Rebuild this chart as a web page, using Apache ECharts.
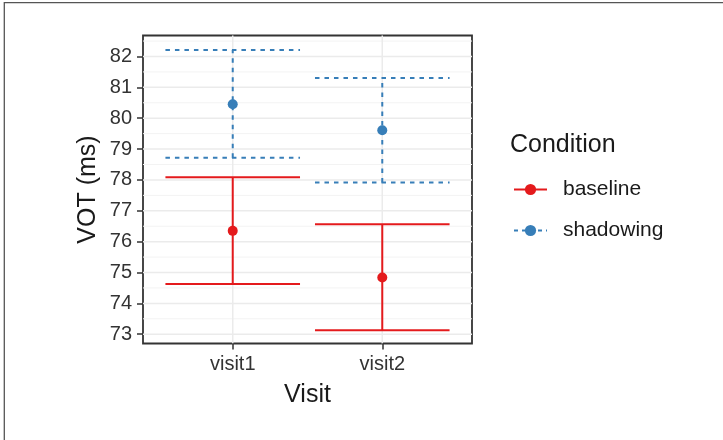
<!DOCTYPE html>
<html>
<head>
<meta charset="utf-8">
<script src="https://cdn.jsdelivr.net/npm/echarts@6/dist/echarts.min.js"></script>
<style>
  html, body { margin: 0; padding: 0; background: #fff; }
  #chart { width: 723px; height: 440px; }
</style>
</head>
<body>
<div id="chart"></div>
<script>
const visits = ['visit1', 'visit2']
const yTicks = [73, 74, 75, 76, 77, 78, 79, 80, 81, 82]
const yMinor = [73.5, 74.5, 75.5, 76.5, 77.5, 78.5, 79.5, 80.5, 81.5, 82.5]

const baselineMean = [76.35, 74.84]
const baselineLow = [74.63, 73.13]
const baselineHigh = [78.09, 76.56]

const shadowMean = [80.45, 79.61]
const shadowLow = [78.72, 77.92]
const shadowHigh = [82.21, 81.30]

const RED = '#E41A1C'
const BLUE = '#377EB8'
const FONT = 'Liberation Sans, Arial, sans-serif'

const X_MIN = 0.4, X_MAX = 2.6
const Y_MIN = 72.70, Y_MAX = 82.68
const CAP = 0.45

const chart = echarts.init(document.getElementById('chart'))

function rows(means, lows, highs) {
  return visits.map((v, i) => [i + 1, lows[i], means[i], highs[i]])
}

function errorBar(color, dash) {
  return function (params, api) {
    const x = api.value(0)
    const lo = api.coord([x, api.value(1)])
    const mid = api.coord([x, api.value(2)])
    const hi = api.coord([x, api.value(3)])
    const l = api.coord([x - CAP, 0])[0]
    const r = api.coord([x + CAP, 0])[0]
    const style = { stroke: color, lineWidth: 2, lineDash: dash, fill: null }
    return {
      type: 'group',
      children: [
        { type: 'line', shape: { x1: lo[0], y1: lo[1], x2: hi[0], y2: hi[1] }, style },
        { type: 'line', shape: { x1: l, y1: hi[1], x2: r, y2: hi[1] }, style },
        { type: 'line', shape: { x1: l, y1: lo[1], x2: r, y2: lo[1] }, style },
        { type: 'circle', shape: { cx: mid[0], cy: mid[1], r: 5 }, style: { fill: color } }
      ]
    }
  }
}

function hLines(color, width) {
  return function (params, api) {
    const a = api.coord([X_MIN, api.value(1)])
    const b = api.coord([X_MAX, api.value(1)])
    return { type: 'line', shape: { x1: a[0], y1: a[1], x2: b[0], y2: b[1] }, style: { stroke: color, lineWidth: width } }
  }
}

function vLines(params, api) {
  const a = api.coord([api.value(0), Y_MIN])
  const b = api.coord([api.value(0), Y_MAX])
  return { type: 'line', shape: { x1: a[0], y1: a[1], x2: b[0], y2: b[1] }, style: { stroke: '#EBEBEB', lineWidth: 1.5 } }
}

const option = {
  backgroundColor: '#fff',
  animation: false,
  textStyle: { fontFamily: FONT },
  title: {
    text: 'Condition',
    left: 510,
    top: 133,
    padding: 0,
    textStyle: { fontSize: 25, fontWeight: 'normal', color: '#1a1a1a', fontFamily: FONT }
  },
  legend: {
    orient: 'vertical',
    left: 508,
    top: 174,
    itemWidth: 33,
    itemHeight: 14,
    itemGap: 20,
    data: ['baseline', 'shadowing'],
    textStyle: { fontSize: 21, color: '#1a1a1a', fontFamily: FONT, padding: [0, 0, 0, 11] }
  },
  grid: {
    left: 143, top: 35.5, width: 329, height: 308,
    show: true, borderColor: '#333', borderWidth: 1.8, backgroundColor: 'transparent'
  },
  xAxis: {
    type: 'value',
    min: X_MIN, max: X_MAX,
    name: 'Visit', nameLocation: 'middle', nameGap: 39,
    nameTextStyle: { fontSize: 25, color: '#1a1a1a', fontFamily: FONT },
    axisLine: { show: false },
    axisTick: { show: true, customValues: [1, 2], length: 6, lineStyle: { color: '#333', width: 1.5 } },
    axisLabel: {
      customValues: [1, 2], margin: 11, fontSize: 20, color: '#333', fontFamily: FONT,
      formatter: v => visits[Math.round(v) - 1]
    },
    splitLine: { show: false }
  },
  yAxis: {
    type: 'value',
    min: Y_MIN, max: Y_MAX,
    name: 'VOT (ms)', nameLocation: 'middle', nameGap: 42,
    nameTextStyle: { fontSize: 25, color: '#1a1a1a', fontFamily: FONT },
    axisLine: { show: false },
    axisTick: { show: true, customValues: yTicks, length: 6, lineStyle: { color: '#333', width: 1.5 } },
    axisLabel: { customValues: yTicks, margin: 11, fontSize: 20, color: '#333', fontFamily: FONT },
    splitLine: { show: false }
  },
  graphic: [
    { type: 'rect', shape: { x: 4.3, y: 2.7, width: 900, height: 600 }, style: { fill: null, stroke: '#555', lineWidth: 1.3 }, silent: true }
  ],
  series: [
    // legend keys
    { name: 'baseline', type: 'line', data: [], symbol: 'circle', symbolSize: 10, itemStyle: { color: RED }, lineStyle: { color: RED, width: 2 } },
    { name: 'shadowing', type: 'line', data: [], symbol: 'circle', symbolSize: 10, itemStyle: { color: BLUE }, lineStyle: { color: BLUE, width: 2, type: [4, 4] } },
    // panel grid
    { type: 'custom', silent: true, z: 0, data: yMinor.map(v => [1, v]), renderItem: hLines('#F3F3F3', 1) },
    { type: 'custom', silent: true, z: 0, data: yTicks.map(v => [1, v]), renderItem: hLines('#EBEBEB', 1.5) },
    { type: 'custom', silent: true, z: 0, data: visits.map((v, i) => [i + 1, Y_MIN]), renderItem: vLines },
    // error bars
    { name: 'baseline', type: 'custom', z: 3, data: rows(baselineMean, baselineLow, baselineHigh), renderItem: errorBar(RED, null) },
    { name: 'shadowing', type: 'custom', z: 3, data: rows(shadowMean, shadowLow, shadowHigh), renderItem: errorBar(BLUE, [4.5, 5]) }
  ]
}

chart.setOption(option)
</script>
</body>
</html>
